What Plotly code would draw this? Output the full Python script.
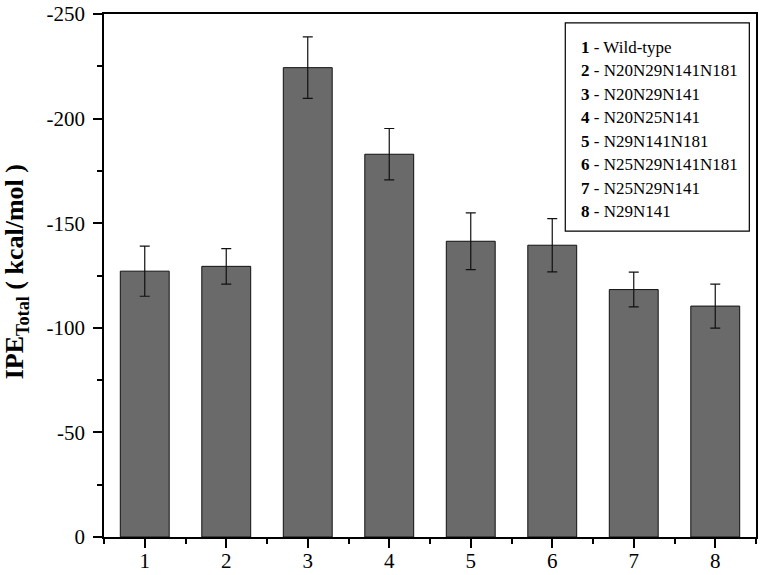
import plotly.graph_objects as go

categories = [1, 2, 3, 4, 5, 6, 7, 8]
ipe_values = [-127.1, -129.4, -224.4, -183.0, -141.4, -139.5, -118.3, -110.4]
ipe_errors = [12.0, 8.5, 14.7, 12.3, 13.6, 12.7, 8.3, 10.5]
legend_nums = ["1", "2", "3", "4", "5", "6", "7", "8"]
legend_names = ["Wild-type", "N20N29N141N181", "N20N29N141", "N20N25N141",
                "N29N141N181", "N25N29N141N181", "N25N29N141", "N29N141"]
y_ticks = [0, -50, -100, -150, -200, -250]

FONT = "Liberation Serif"

W, H = 760, 575
L, R, T, B = 104, 2, 10, 38
pw, ph = W - L - R, H - T - B

fig = go.Figure()
fig.add_trace(go.Bar(
    x=categories, y=ipe_values, width=0.6,
    marker=dict(color="#6a6a6a", line=dict(color="#111111", width=1)),
    error_y=dict(type="data", array=ipe_errors, symmetric=True,
                 color="#111111", thickness=1.2, width=5),
    showlegend=False, hoverinfo="skip",
))

fig.update_layout(
    width=W, height=H,
    margin=dict(l=L, r=R, t=T, b=B),
    paper_bgcolor="white", plot_bgcolor="white",
    font=dict(family=FONT, color="black", size=21),
    xaxis=dict(range=[0.5, 8.5], tickvals=categories, ticktext=[str(c) for c in categories],
               ticks="outside", ticklen=9, tickwidth=1.5, tickcolor="black",
               minor=dict(dtick=0.5, tick0=0.5, ticks="outside", ticklen=5, tickwidth=1.5, tickcolor="black"),
               showline=True, linecolor="black", linewidth=1.5, mirror=True,
               showgrid=False, zeroline=False, ticklabelstandoff=-5,
               tickfont=dict(size=21, family=FONT, color="black")),
    yaxis=dict(range=[0, -250.05], tickvals=y_ticks, ticktext=[str(v) for v in y_ticks],
               ticks="outside", ticklen=9, tickwidth=1.5, tickcolor="black",
               minor=dict(dtick=25, ticks="outside", ticklen=5, tickwidth=1.5, tickcolor="black"),
               showline=True, linecolor="black", linewidth=1.5, mirror=True,
               showgrid=False, zeroline=False, ticklabelstandoff=4,
               ticklabeloverflow="allow",
               tickfont=dict(size=21, family=FONT, color="black")),
)

# y-axis title
fig.add_annotation(
    text="<b>IPE<sub>Total</sub> ( kcal/mol )</b>",
    xref="paper", yref="paper",
    x=(16 - L) / pw, y=1 - (270 - T) / ph,
    textangle=-90, showarrow=False,
    font=dict(size=26, family=FONT, color="black"),
    xanchor="center", yanchor="middle",
)

# legend box
fig.add_shape(type="rect", xref="paper", yref="paper",
              x0=(566.7 - L) / pw, x1=(751.3 - L) / pw,
              y0=1 - (228.7 - T) / ph, y1=1 - (19 - T) / ph,
              line=dict(color="black", width=1.2), fillcolor="white")

for i, (num, name) in enumerate(zip(legend_nums, legend_names)):
    ypx = 43.3 + i * 23.7
    fig.add_annotation(
        text=f"<b>{num}</b> - {name}",
        xref="paper", yref="paper",
        x=(580.7 - L) / pw, y=1 - (ypx - T) / ph,
        xanchor="left", yanchor="middle", showarrow=False,
        font=dict(size=17, family=FONT, color="black"),
    )

fig.write_html("out.html", config={"displayModeBar": False},
               post_script="document.body.style.margin='0px';")
